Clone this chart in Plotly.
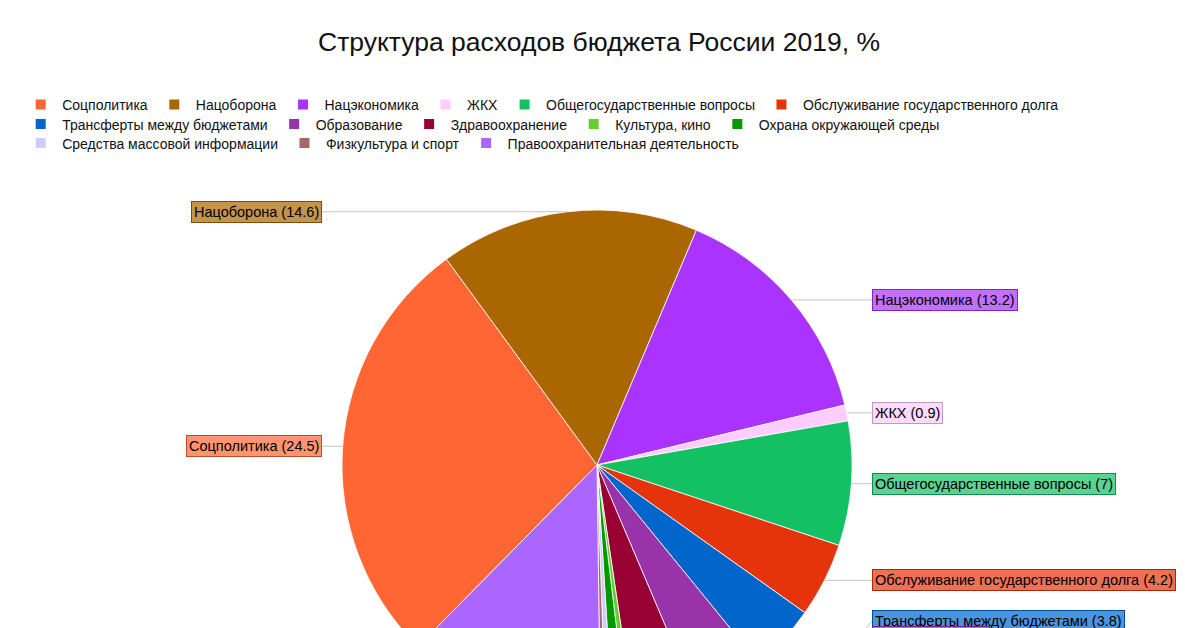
import math
import plotly.graph_objects as go

# ---- data ----
categories = [
    "Соцполитика", "Нацоборона", "Нацэкономика", "ЖКХ",
    "Общегосударственные вопросы", "Обслуживание государственного долга",
    "Трансферты между бюджетами", "Образование", "Здравоохранение",
    "Культура, кино", "Охрана окружающей среды",
    "Средства массовой информации", "Физкультура и спорт",
    "Правоохранительная деятельность",
]
values = [24.5, 14.6, 13.2, 0.9, 7, 4.2, 3.8, 4.0, 3.6, 0.4, 0.8, 0.4, 0.3, 11.2]
colors = [
    "#FF6633", "#AA6600", "#AA33FF", "#FFCCFF", "#14C064", "#E5340C",
    "#0066CC", "#9933AA", "#990033", "#66CC33", "#009900", "#CCCCFF",
    "#AA6666", "#AA66FF",
]
title_text = "Структура расходов бюджета России 2019, %"

# ---- layout constants (pixels) ----
W, H = 1200, 740
CX, CY, R = 597, 465, 255
ROT = 224.6            # start angle of first slice, clockwise from 12 o'clock
LEFT_X, RIGHT_X = 322, 872
GAP = 16.5
FONT = "Liberation Sans, Arial, sans-serif"
LEGEND_ROWS = [6, 5, 3]          # number of legend entries per row
LEGEND_ROW_Y = [104, 123.5, 142.5]


def px(x):
    return x / W


def py(y):
    return 1 - y / H


def mix(hexc, t, target=255):
    h = hexc.lstrip("#")
    rgb = [int(h[i:i + 2], 16) for i in (0, 2, 4)]
    out = [round(c + (target - c) * t) for c in rgb]
    return "#%02x%02x%02x" % tuple(out)


fig = go.Figure(go.Pie(
    labels=categories,
    values=values,
    sort=False,
    direction="clockwise",
    rotation=ROT,
    marker=dict(colors=colors, line=dict(color="rgba(255,255,255,0.8)", width=1)),
    textinfo="none",
    hoverinfo="label+value+percent",
    showlegend=False,
    domain=dict(x=[px(CX - R), px(CX + R)], y=[py(CY + R), py(CY - R)]),
))

# ---- legend entries (legend-only, one row per legend) ----
legend_names = ["legend", "legend2", "legend3"]
idx = 0
for row, n in enumerate(LEGEND_ROWS):
    for name, c in zip(categories[idx:idx + n], colors[idx:idx + n]):
        fig.add_trace(go.Scatter(
            x=[None], y=[None], mode="markers", name=name,
            marker=dict(symbol="square", size=10, color=c, line=dict(width=0)),
            legend=legend_names[row], showlegend=True, hoverinfo="skip",
        ))
    idx += n

# ---- outside labels computed from the data ----
total = sum(values)
acc = 0.0
items = []
for name, v, c in zip(categories, values, colors):
    mid = ROT + (acc + v / 2) / total * 360.0
    acc += v
    a = math.radians(mid)
    ex = CX + R * math.sin(a)
    ey = CY - R * math.cos(a)
    side = "right" if math.sin(a) > 0 else "left"
    items.append(dict(name=name, v=v, c=c, ex=ex, ey=ey, side=side, ly=ey))

for side in ("left", "right"):
    grp = sorted([it for it in items if it["side"] == side], key=lambda d: d["ey"])
    limit = CY + R
    for it in reversed(grp):
        it["ly"] = min(it["ey"], limit)
        limit = it["ly"] - GAP

shapes = []
annotations = []
for it in items:
    lx = LEFT_X if it["side"] == "left" else RIGHT_X
    bend = lx + (15 if it["side"] == "left" else -15)
    if abs(it["ly"] - it["ey"]) < 0.5:
        pts = [(it["ex"], it["ey"]), (lx, it["ly"])]
    else:
        pts = [(it["ex"], it["ey"]), (bend, it["ey"]), (lx, it["ly"])]
    for (x0, y0), (x1, y1) in zip(pts[:-1], pts[1:]):
        shapes.append(dict(type="line", xref="paper", yref="paper",
                           x0=px(x0), y0=py(y0), x1=px(x1), y1=py(y1),
                           line=dict(color="#c4c4c4", width=1), layer="below"))
    v = it["v"]
    vs = str(int(v)) if float(v).is_integer() else str(v)
    annotations.append(dict(
        xref="paper", yref="paper", x=px(lx), y=py(it["ly"]),
        xanchor="right" if it["side"] == "left" else "left", yanchor="middle",
        text=f"{it['name']} ({vs})", showarrow=False,
        font=dict(family=FONT, size=14.5, color="#000000"),
        bgcolor=mix(it["c"], 0.3), bordercolor=mix(it["c"], 0.25, 0),
        borderwidth=1, borderpad=2,
    ))

legend_common = dict(orientation="h", x=0.016, xanchor="left", yanchor="top",
                     itemwidth=33,
                     font=dict(family=FONT, size=14, color="#111111"),
                     itemclick=False, itemdoubleclick=False,
                     bgcolor="rgba(0,0,0,0)")

fig.update_layout(
    width=W, height=H,
    margin=dict(l=0, r=0, t=0, b=0),
    paper_bgcolor="#ffffff", plot_bgcolor="#ffffff",
    title=dict(text=title_text, x=px(599), xanchor="center",
               y=py(42), yanchor="middle", yref="container",
               font=dict(family=FONT, size=26.5, color="#111111")),
    legend=dict(legend_common, y=py(LEGEND_ROW_Y[0] - 15)),
    legend2=dict(legend_common, y=py(LEGEND_ROW_Y[1] - 15)),
    legend3=dict(legend_common, y=py(LEGEND_ROW_Y[2] - 15)),
    xaxis=dict(visible=False),
    yaxis=dict(visible=False),
    shapes=shapes,
    annotations=annotations,
    font=dict(family=FONT),
)

fig.write_html("out.html",
               post_script="document.body.style.margin='0';document.body.style.overflow='hidden';document.documentElement.style.overflow='hidden';")
